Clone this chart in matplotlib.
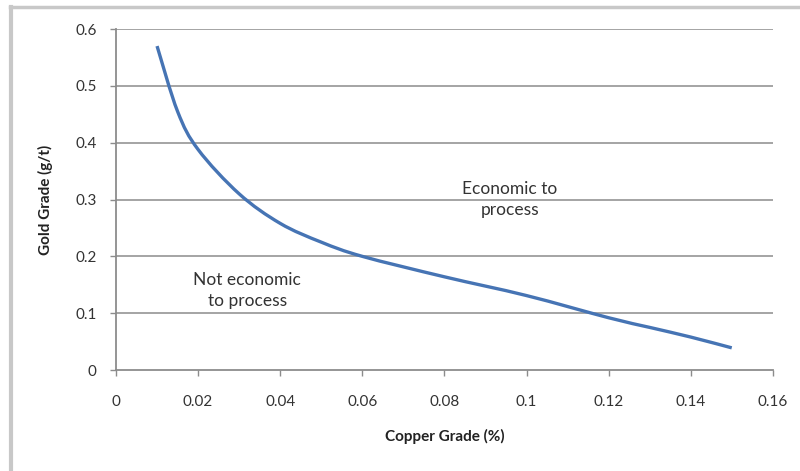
import matplotlib.pyplot as plt
from matplotlib.lines import Line2D
from matplotlib.path import Path
from matplotlib.patches import PathPatch

# cut-off curve
copper_grade = [0.010, 0.015, 0.020, 0.030, 0.040, 0.050, 0.060, 0.080,
                0.100, 0.120, 0.130, 0.140, 0.150]
gold_grade = [0.570, 0.455, 0.388, 0.310, 0.258, 0.225, 0.200, 0.164,
              0.131, 0.092, 0.075, 0.058, 0.039]

x_ticks = [0, 0.02, 0.04, 0.06, 0.08, 0.1, 0.12, 0.14, 0.16]
x_labels = ["0", "0.02", "0.04", "0.06", "0.08", "0.1", "0.12", "0.14", "0.16"]
y_ticks = [0, 0.1, 0.2, 0.3, 0.4, 0.5, 0.6]
y_labels = ["0", "0.1", "0.2", "0.3", "0.4", "0.5", "0.6"]


def smooth_path(xs, ys):
    # excel style smoothed line: cubic bezier through every point
    n = len(xs)
    verts = [(xs[0], ys[0])]
    codes = [Path.MOVETO]
    for i in range(n - 1):
        x0, y0 = xs[max(i - 1, 0)], ys[max(i - 1, 0)]
        x1, y1 = xs[i], ys[i]
        x2, y2 = xs[i + 1], ys[i + 1]
        x3, y3 = xs[min(i + 2, n - 1)], ys[min(i + 2, n - 1)]
        verts += [(x1 + (x2 - x0) / 6, y1 + (y2 - y0) / 6),
                  (x2 - (x3 - x1) / 6, y2 - (y3 - y1) / 6),
                  (x2, y2)]
        codes += [Path.CURVE4] * 3
    return Path(verts, codes)


plt.rcParams['font.family'] = ['Lato', 'DejaVu Sans']

fig = plt.figure(figsize=(8, 4.71), dpi=100)
ax = fig.add_axes([0.145, 0.2144, 0.821, 0.7240])

grid_col = '#8c8c8c'
for y in y_ticks[1:]:
    ax.axhline(y, color=grid_col, lw=1.1, zorder=1)

ax.add_patch(PathPatch(smooth_path(copper_grade, gold_grade), fill=False,
                       edgecolor='#4674b4', lw=2.4, capstyle='butt', zorder=3))

ax.set_xlim(0, 0.16)
ax.set_ylim(0, 0.6)
ax.set_xticks(x_ticks)
ax.set_xticklabels(x_labels)
ax.set_yticks(y_ticks)
ax.set_yticklabels(y_labels)

for side in ['top', 'right']:
    ax.spines[side].set_visible(False)
for side in ['left', 'bottom']:
    ax.spines[side].set_color(grid_col)
    ax.spines[side].set_linewidth(1.3)

ax.tick_params(axis='x', colors=grid_col, length=4, width=1, pad=14,
               labelcolor='#333333', labelsize=11)
ax.tick_params(axis='y', colors=grid_col, length=4, width=1, pad=10,
               labelcolor='#333333', labelsize=11)

ax.set_xlabel("Copper Grade (%)", fontsize=11, fontweight='bold',
              color='#222222', labelpad=14)
ax.set_ylabel("Gold Grade (g/t)", fontsize=11, fontweight='bold',
              color='#222222', labelpad=16)

ax.text(0.0959, 0.30, "Economic to\nprocess", ha='center', va='center',
        fontsize=12.5, color='#333333', linespacing=1.45)
ax.text(0.032, 0.14, "Not economic\nto process", ha='center', va='center',
        fontsize=12.5, color='#333333', linespacing=1.45)

# light grey frame on top and left edges
fig.add_artist(Line2D([0.0125, 1.0], [0.9855, 0.9855], transform=fig.transFigure,
                      color='#c8c8c8', lw=2.5))
fig.add_artist(Line2D([0.0138, 0.0138], [0.0, 0.9855], transform=fig.transFigure,
                      color='#c8c8c8', lw=3))

fig.savefig("out.png", dpi=100)
